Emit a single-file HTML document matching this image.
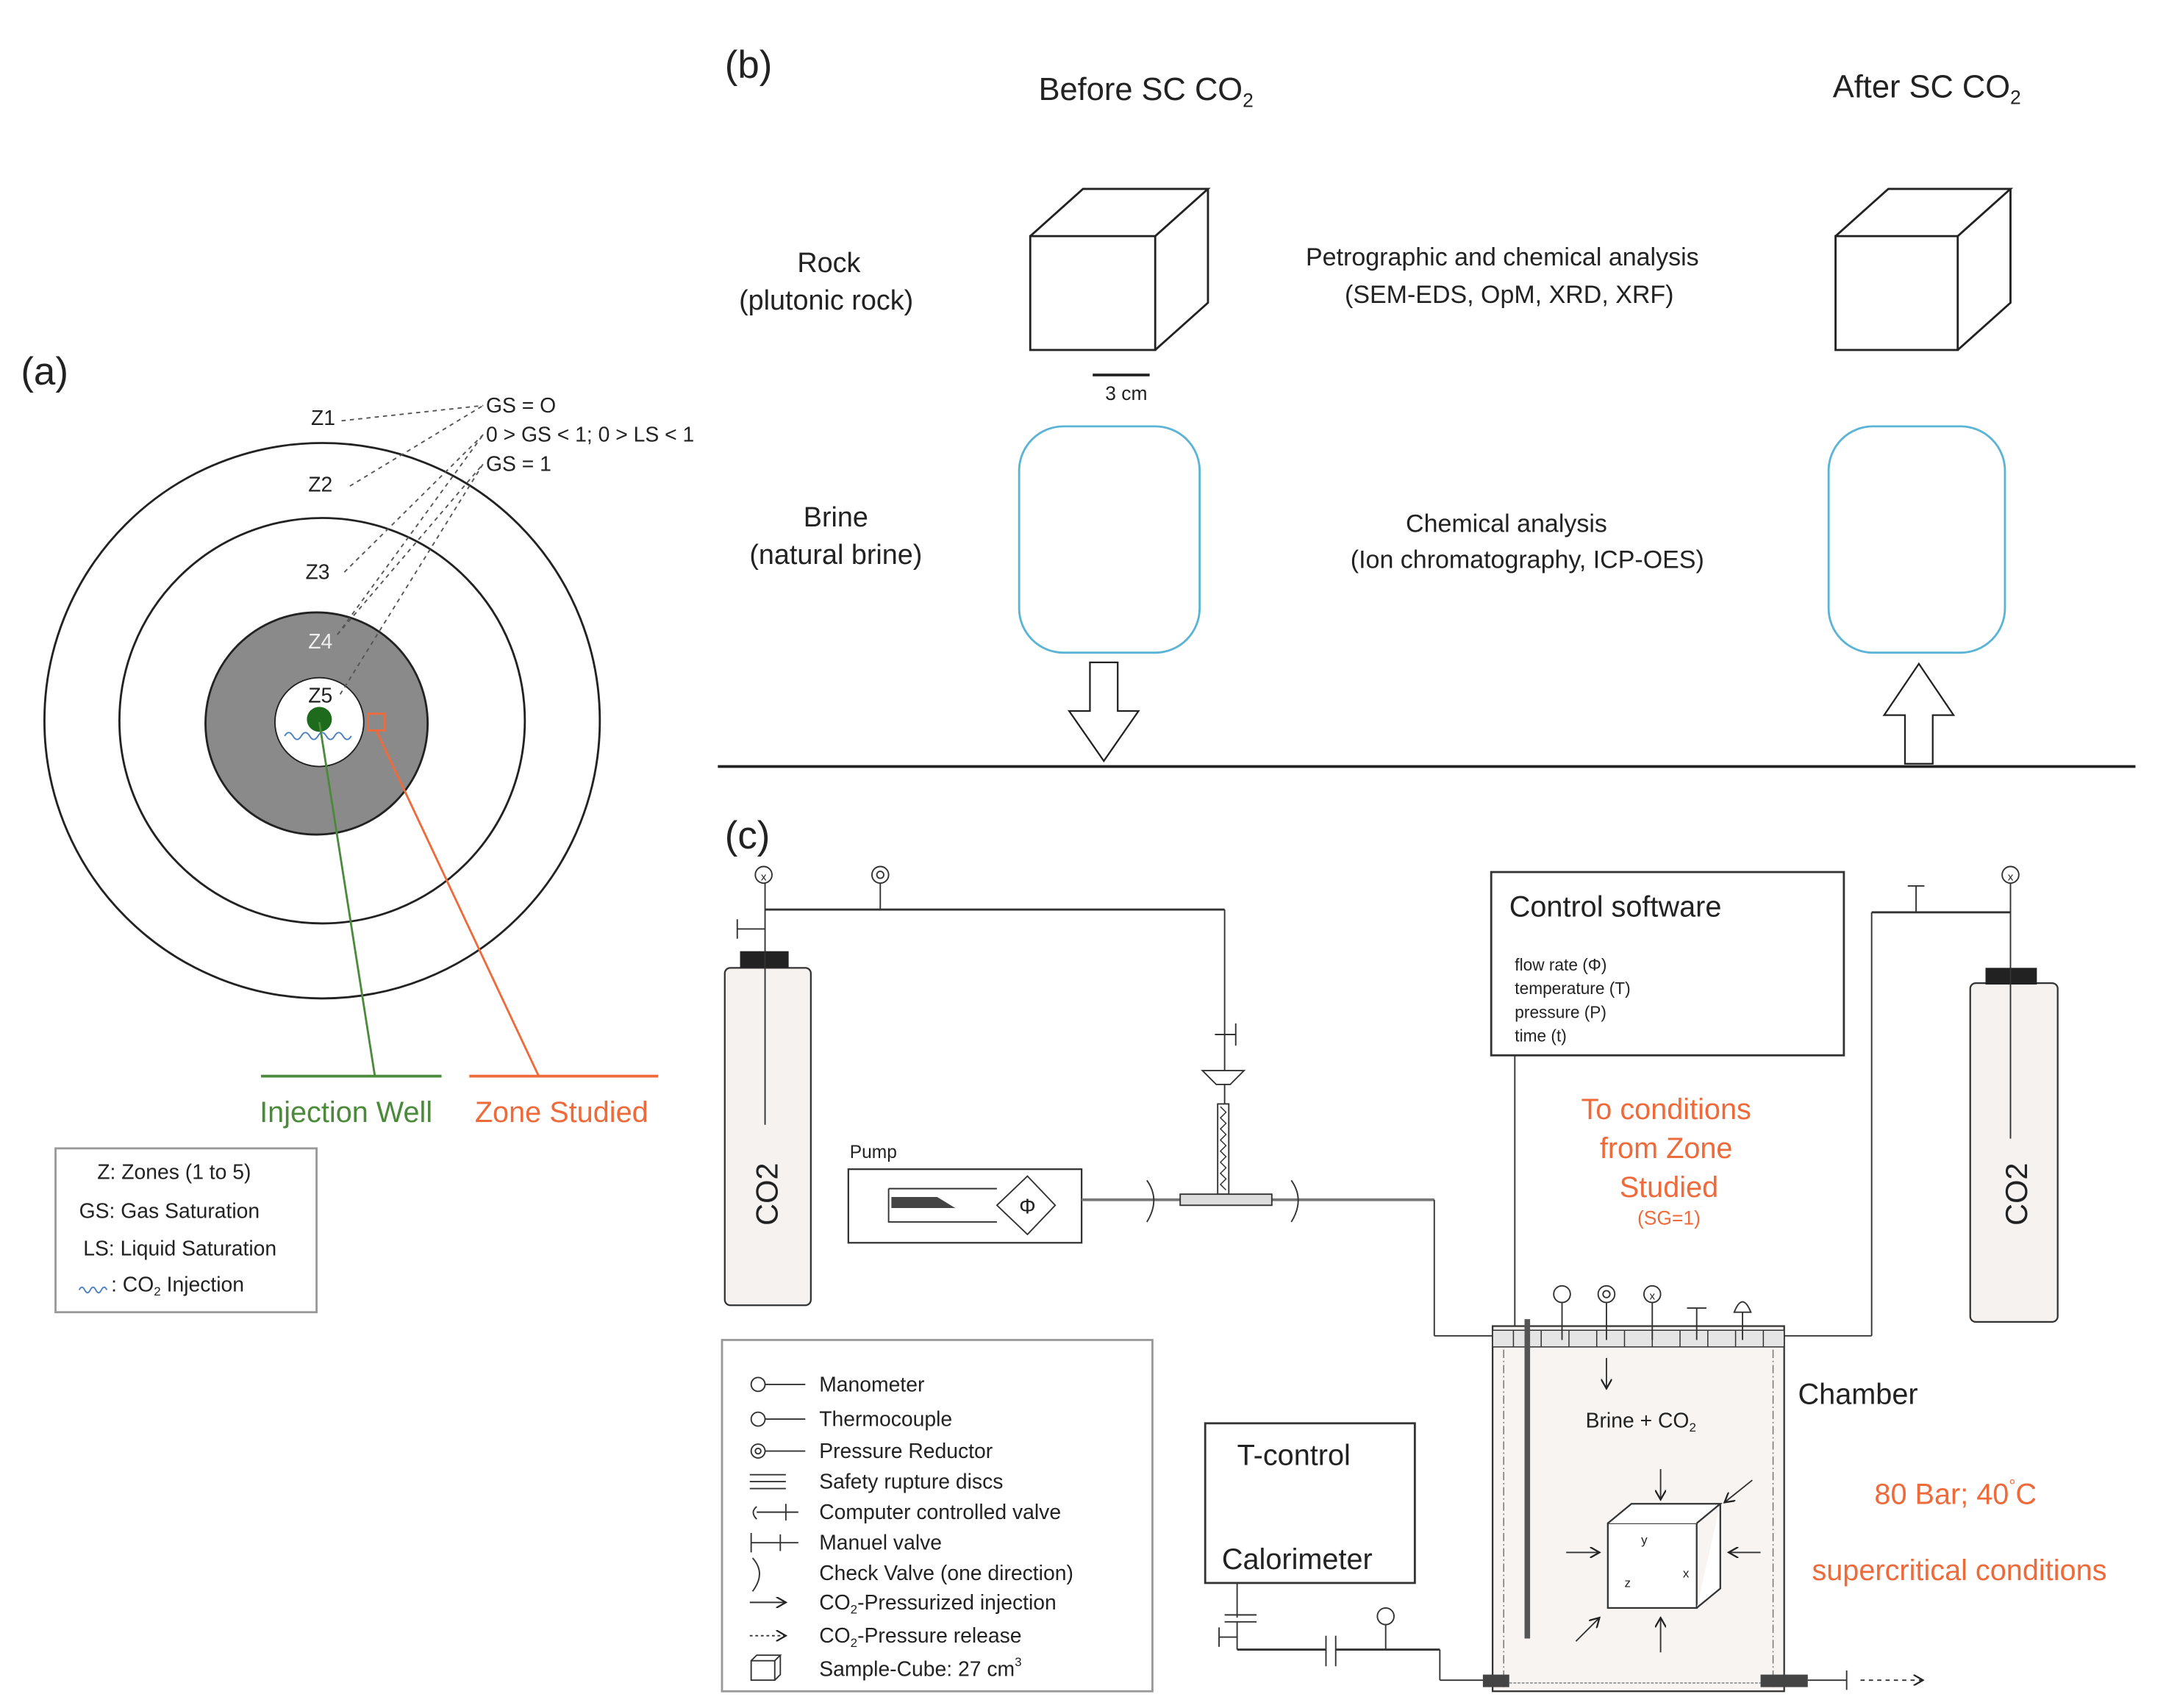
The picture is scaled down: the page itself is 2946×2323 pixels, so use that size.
<!DOCTYPE html>
<html><head><meta charset="utf-8"><style>
html,body{margin:0;padding:0;background:#fff;}
svg{display:block;}
text{font-family:"Liberation Sans",sans-serif;fill:#222;}
.o{fill:#ef6a3a;}
</style></head><body>
<svg width="2946" height="2323" viewBox="0 0 1560 1230" xmlns="http://www.w3.org/2000/svg">
<defs>
<marker id="ah" markerWidth="8" markerHeight="8" refX="7" refY="4" orient="auto"><path d="M0,0 L7,4 L0,8" fill="none" stroke="#222" stroke-width="1.2"/></marker>
</defs>
<!-- (a) -->
<text x="15" y="277" font-size="28">(a)</text>
<circle cx="232" cy="519" r="200" fill="none" stroke="#222" stroke-width="1.5"/>
<circle cx="232" cy="519" r="146" fill="none" stroke="#222" stroke-width="1.5"/>
<circle cx="228" cy="521" r="80" fill="#8a8a8a" stroke="#222" stroke-width="1.5"/>
<circle cx="230" cy="520" r="32" fill="#fff" stroke="#222" stroke-width="1"/>
<circle cx="230" cy="518" r="9" fill="#1e6b1e"/>
<path d="M205,530 q3,-5 6,0 t6,0 t6,0 t6,0 t6,0 t6,0 t6,0 t6,0" fill="none" stroke="#4a7fc4" stroke-width="1"/>
<rect x="265" y="514" width="12" height="12" fill="none" stroke="#ef6a3a" stroke-width="1.5"/>
<line x1="230" y1="520" x2="270" y2="775" stroke="#4a8a3a" stroke-width="1.5"/>
<line x1="188" y1="775" x2="318" y2="775" stroke="#4a8a3a" stroke-width="2"/>
<line x1="271" y1="526" x2="388" y2="775" stroke="#ef6a3a" stroke-width="1.5"/>
<line x1="338" y1="775" x2="474" y2="775" stroke="#ef6a3a" stroke-width="2"/>
<text x="187" y="808" font-size="21" style="fill:#4a8a3a">Injection Well</text>
<text x="342" y="808" font-size="21" class="o">Zone Studied</text>
<text x="224" y="306" font-size="15">Z1</text>
<text x="222" y="354" font-size="15">Z2</text>
<text x="220" y="417" font-size="15">Z3</text>
<text x="222" y="467" font-size="15" style="fill:#eee">Z4</text>
<text x="222" y="506" font-size="15">Z5</text>
<g stroke="#555" stroke-dasharray="3,3" stroke-width="1" fill="none">
<line x1="246" y1="303" x2="348" y2="292"/>
<line x1="252" y1="350" x2="348" y2="292"/>
<line x1="248" y1="412" x2="348" y2="313"/>
<line x1="243" y1="457" x2="348" y2="313"/>
<line x1="243" y1="457" x2="348" y2="334"/>
<line x1="245" y1="500" x2="348" y2="334"/>
</g>
<text x="350" y="297" font-size="15">GS = O</text>
<text x="350" y="318" font-size="15">0 &gt; GS &lt; 1; 0 &gt; LS &lt; 1</text>
<text x="350" y="339" font-size="15">GS = 1</text>
<rect x="40" y="827" width="188" height="118" fill="#fff" stroke="#999" stroke-width="1.5"/>
<text x="70" y="849" font-size="15">Z:  Zones (1 to 5)</text>
<text x="57" y="877" font-size="15">GS: Gas Saturation</text>
<text x="60" y="904" font-size="15">LS: Liquid Saturation</text>
<path d="M57,929 q2,-4 4,0 t4,0 t4,0 t4,0 t4,0" fill="none" stroke="#4a7fc4" stroke-width="1"/>
<text x="80" y="930" font-size="15">: CO<tspan font-size="9" dy="3">2</tspan><tspan dy="-3"> Injection</tspan></text>

<!-- (b) -->
<text x="522" y="56" font-size="28">(b)</text>
<text x="748" y="72" font-size="23">Before SC CO<tspan font-size="14" dy="5">2</tspan></text>
<text x="1320" y="70" font-size="23">After  SC CO<tspan font-size="14" dy="5">2</tspan></text>
<text x="597" y="196" font-size="20" text-anchor="middle">Rock</text>
<text x="595" y="223" font-size="20" text-anchor="middle">(plutonic rock)</text>
<text x="602" y="379" font-size="20" text-anchor="middle">Brine</text>
<text x="602" y="406" font-size="20" text-anchor="middle">(natural brine)</text>
<g fill="none" stroke="#222" stroke-width="1.5">
<rect x="742" y="170" width="90" height="82"/>
<path d="M742,170 L780,136 L870,136 L832,170 M870,136 L870,218 L832,252"/>
<rect x="1322" y="170" width="88" height="82"/>
<path d="M1322,170 L1360,136 L1448,136 L1410,170 M1448,136 L1448,218 L1410,252"/>
</g>
<line x1="787" y1="270" x2="828" y2="270" stroke="#222" stroke-width="2"/>
<text x="796" y="288" font-size="14">3 cm</text>
<text x="1082" y="191" font-size="18" text-anchor="middle">Petrographic and chemical analysis</text>
<text x="1087" y="218" font-size="18" text-anchor="middle">(SEM-EDS, OpM, XRD, XRF)</text>
<text x="1085" y="383" font-size="18" text-anchor="middle">Chemical analysis</text>
<text x="1100" y="409" font-size="18" text-anchor="middle">(Ion chromatography, ICP-OES)</text>
<rect x="734" y="307" width="130" height="163" rx="32" fill="none" stroke="#5ab4d6" stroke-width="1.5"/>
<rect x="1317" y="307" width="127" height="163" rx="32" fill="none" stroke="#5ab4d6" stroke-width="1.5"/>
<path d="M785,477 L805,477 L805,512 L820,512 L795,548 L770,512 L785,512 Z" fill="#fff" stroke="#222" stroke-width="1.2"/>
<path d="M1372,550 L1392,550 L1392,515 L1407,515 L1382,478 L1357,515 L1372,515 Z" fill="#fff" stroke="#222" stroke-width="1.2"/>
<line x1="517" y1="552" x2="1538" y2="552" stroke="#222" stroke-width="2"/>

<!-- (c) -->
<text x="522" y="611" font-size="28">(c)</text>
<rect x="522" y="697" width="62" height="243" rx="4" fill="#f6f2f0" stroke="#333" stroke-width="1.2"/>
<rect x="533" y="685" width="35" height="12" fill="#222"/>
<line x1="551" y1="636" x2="551" y2="810" stroke="#333" stroke-width="1"/>
<text x="560" y="860" font-size="22" transform="rotate(-90 560 860)" text-anchor="middle">CO2</text>
<circle cx="550" cy="630" r="6" fill="#fff" stroke="#333"/>
<text x="550" y="634" font-size="8" text-anchor="middle">x</text>
<line x1="531" y1="662" x2="531" y2="676" stroke="#333"/><line x1="531" y1="669" x2="551" y2="669" stroke="#333"/>
<line x1="551" y1="655" x2="882" y2="655" stroke="#333" stroke-width="1.5"/>
<circle cx="634" cy="630" r="6" fill="#fff" stroke="#333"/><circle cx="634" cy="630" r="2.5" fill="none" stroke="#333"/>
<line x1="634" y1="636" x2="634" y2="655" stroke="#333"/>
<line x1="882" y1="655" x2="882" y2="862" stroke="#333"/>
<line x1="875" y1="745" x2="890" y2="745" stroke="#333"/><line x1="890" y1="737" x2="890" y2="753" stroke="#333"/>
<path d="M866,771 L896,771 L886,781 L876,781 Z" fill="#fff" stroke="#333"/>
<rect x="877" y="795" width="8" height="65" fill="#fff" stroke="#333"/>
<path d="M879,797 l4,4 l-4,4 l4,4 l-4,4 l4,4 l-4,4 l4,4 l-4,4 l4,4 l-4,4 l4,4 l-4,4 l4,4 l-4,4 l4,4" fill="none" stroke="#333" stroke-width="0.8"/>
<text x="612" y="834" font-size="13">Pump</text>
<rect x="611" y="842" width="168" height="53" fill="#fff" stroke="#333" stroke-width="1.2"/>
<path d="M640,856 L718,856 M640,856 L640,880 L718,880" stroke="#333" fill="none"/>
<path d="M642,862 L675,862 L688,870 L642,870 Z" fill="#444"/>
<path d="M740,847 L760,868 L740,889 L718,868 Z" fill="#fff" stroke="#333"/>
<text x="740" y="874" font-size="15" text-anchor="middle">Φ</text>
<line x1="779" y1="864" x2="1033" y2="864" stroke="#777" stroke-width="2"/>
<path d="M826,850 Q836,864 826,880" fill="none" stroke="#333"/>
<path d="M930,850 Q940,864 930,880" fill="none" stroke="#333"/>
<rect x="850" y="860" width="66" height="8" fill="#ddd" stroke="#333"/>
<line x1="1033" y1="864" x2="1033" y2="962" stroke="#333"/>
<line x1="1033" y1="962" x2="1077" y2="962" stroke="#333"/>
<rect x="1074" y="628" width="254" height="132" fill="#fff" stroke="#333" stroke-width="1.5"/>
<text x="1087" y="660" font-size="21">Control software</text>
<text x="1091" y="699" font-size="12">flow rate (Φ)</text>
<text x="1091" y="716" font-size="12">temperature (T)</text>
<text x="1091" y="733" font-size="12">pressure (P)</text>
<text x="1091" y="750" font-size="12">time (t)</text>
<line x1="1091" y1="760" x2="1091" y2="958" stroke="#333"/>
<text x="1200" y="806" font-size="21" text-anchor="middle" class="o">To conditions</text>
<text x="1200" y="834" font-size="21" text-anchor="middle" class="o">from Zone</text>
<text x="1202" y="862" font-size="21" text-anchor="middle" class="o">Studied</text>
<text x="1202" y="882" font-size="14" text-anchor="middle" class="o">(SG=1)</text>
<rect x="1419" y="708" width="63" height="244" rx="4" fill="#f6f2f0" stroke="#333" stroke-width="1.2"/>
<rect x="1430" y="697" width="37" height="12" fill="#222"/>
<line x1="1448" y1="636" x2="1448" y2="820" stroke="#333"/>
<text x="1460" y="860" font-size="22" transform="rotate(-90 1460 860)" text-anchor="middle">CO2</text>
<circle cx="1448" cy="630" r="6" fill="#fff" stroke="#333"/>
<text x="1448" y="634" font-size="8" text-anchor="middle">x</text>
<line x1="1348" y1="657" x2="1448" y2="657" stroke="#333" stroke-width="1.5"/>
<line x1="1380" y1="638" x2="1380" y2="657" stroke="#333"/><line x1="1374" y1="638" x2="1386" y2="638" stroke="#333"/>
<line x1="1348" y1="657" x2="1348" y2="962" stroke="#333"/>
<line x1="1285" y1="962" x2="1348" y2="962" stroke="#333"/>
<rect x="1075" y="955" width="210" height="263" fill="#f7f4f2" stroke="#333" stroke-width="1.2"/>
<rect x="1075" y="958" width="210" height="12" fill="#e5e5e5" stroke="#333" stroke-width="0.8"/>
<g stroke="#333" stroke-width="0.8">
<line x1="1090" y1="958" x2="1090" y2="970"/><line x1="1110" y1="958" x2="1110" y2="970"/><line x1="1130" y1="958" x2="1130" y2="970"/><line x1="1150" y1="958" x2="1150" y2="970"/><line x1="1170" y1="958" x2="1170" y2="970"/><line x1="1190" y1="958" x2="1190" y2="970"/><line x1="1210" y1="958" x2="1210" y2="970"/><line x1="1230" y1="958" x2="1230" y2="970"/><line x1="1250" y1="958" x2="1250" y2="970"/><line x1="1270" y1="958" x2="1270" y2="970"/>
</g>
<line x1="1083" y1="972" x2="1083" y2="1215" stroke="#777" stroke-dasharray="6,2,1,2" stroke-width="0.8"/>
<line x1="1277" y1="972" x2="1277" y2="1215" stroke="#777" stroke-dasharray="6,2,1,2" stroke-width="0.8"/>
<line x1="1100" y1="950" x2="1100" y2="1180" stroke="#555" stroke-width="4"/>
<g stroke="#333" fill="#fff">
<line x1="1125" y1="938" x2="1125" y2="965"/><circle cx="1125" cy="932" r="6"/>
<line x1="1157" y1="938" x2="1157" y2="965"/><circle cx="1157" cy="932" r="6"/><circle cx="1157" cy="932" r="2.5"/>
<line x1="1190" y1="938" x2="1190" y2="965"/><circle cx="1190" cy="932" r="6"/>
<line x1="1222" y1="942" x2="1222" y2="965"/><line x1="1215" y1="942" x2="1229" y2="942"/>
<line x1="1255" y1="945" x2="1255" y2="965"/><path d="M1249,945 Q1255,930 1261,945 Z"/>
</g>
<text x="1190" y="936" font-size="8" text-anchor="middle">x</text>
<line x1="1157" y1="978" x2="1157" y2="1000" stroke="#333" marker-end="url(#ah)"/>
<text x="1142" y="1028" font-size="15">Brine + CO<tspan font-size="9" dy="3">2</tspan></text>
<text x="1295" y="1011" font-size="21">Chamber</text>
<rect x="1158" y="1097" width="64" height="61" fill="#fff" stroke="#333" stroke-width="1.2"/>
<path d="M1158,1097 L1175,1083 L1239,1083 L1222,1097 M1239,1083 L1239,1144 L1222,1158" fill="#fff" stroke="#333" stroke-width="1.2"/>
<text x="1182" y="1112" font-size="9">y</text><text x="1212" y="1136" font-size="9">x</text><text x="1170" y="1143" font-size="9">z</text>
<g stroke="#333" stroke-width="1" fill="none">
<line x1="1196" y1="1058" x2="1196" y2="1080" marker-end="url(#ah)"/>
<line x1="1196" y1="1190" x2="1196" y2="1165" marker-end="url(#ah)"/>
<line x1="1128" y1="1118" x2="1152" y2="1118" marker-end="url(#ah)"/>
<line x1="1268" y1="1118" x2="1245" y2="1118" marker-end="url(#ah)"/>
<line x1="1262" y1="1066" x2="1242" y2="1082" marker-end="url(#ah)"/>
<line x1="1135" y1="1182" x2="1152" y2="1165" marker-end="url(#ah)"/>
</g>
<text x="1350" y="1083" font-size="21" class="o">80 Bar; 40<tspan font-size="12" dy="-9">°</tspan><tspan dy="9">C</tspan></text>
<text x="1305" y="1138" font-size="21" class="o">supercritical conditions</text>
<rect x="868" y="1025" width="151" height="115" fill="#fff" stroke="#333" stroke-width="1.5"/>
<text x="891" y="1055" font-size="21">T-control</text>
<text x="880" y="1130" font-size="21">Calorimeter</text>
<g stroke="#333" fill="none">
<line x1="891" y1="1140" x2="891" y2="1165"/>
<line x1="882" y1="1163" x2="905" y2="1163"/><line x1="882" y1="1168" x2="905" y2="1168"/>
<line x1="878" y1="1172" x2="878" y2="1186"/><line x1="878" y1="1179" x2="891" y2="1179"/>
<line x1="891" y1="1168" x2="891" y2="1188"/>
<line x1="891" y1="1188" x2="955" y2="1188" stroke-width="1.5"/>
<line x1="955" y1="1178" x2="955" y2="1200"/><line x1="962" y1="1178" x2="962" y2="1200"/>
<line x1="962" y1="1188" x2="1037" y2="1188" stroke-width="1.5"/>
<line x1="998" y1="1170" x2="998" y2="1188"/><circle cx="998" cy="1164" r="6" fill="#fff"/>
<line x1="1037" y1="1188" x2="1037" y2="1210"/><line x1="1037" y1="1210" x2="1070" y2="1210"/>
</g>
<rect x="1068" y="1206" width="19" height="9" fill="#444"/>
<rect x="1268" y="1206" width="34" height="9" fill="#444"/>
<line x1="1087" y1="1212" x2="1268" y2="1212" stroke="#999" stroke-dasharray="2,1"/>
<line x1="1302" y1="1210" x2="1330" y2="1210" stroke="#333"/><line x1="1330" y1="1203" x2="1330" y2="1217" stroke="#333"/>
<line x1="1340" y1="1210" x2="1385" y2="1210" stroke="#333" stroke-dasharray="3,3" marker-end="url(#ah)"/>
<rect x="520" y="965" width="310" height="253" fill="#fff" stroke="#999" stroke-width="1.5"/>
<g stroke="#333" fill="#fff">
<circle cx="546" cy="997" r="5"/><line x1="551" y1="997" x2="580" y2="997"/>
<circle cx="546" cy="1022" r="5"/><line x1="551" y1="1022" x2="580" y2="1022"/>
<circle cx="546" cy="1045" r="5"/><circle cx="546" cy="1045" r="2"/><line x1="551" y1="1045" x2="580" y2="1045"/>
<line x1="540" y1="1062" x2="566" y2="1062"/><line x1="540" y1="1067" x2="566" y2="1067"/><line x1="540" y1="1072" x2="566" y2="1072"/>
<path d="M545,1085 Q540,1089 545,1094" fill="none"/><line x1="545" y1="1089" x2="575" y2="1089"/><line x1="566" y1="1083" x2="566" y2="1095"/>
<line x1="541" y1="1104" x2="541" y2="1118"/><line x1="541" y1="1111" x2="575" y2="1111"/><line x1="562" y1="1105" x2="562" y2="1117"/>
<path d="M542,1122 Q552,1133 542,1146" fill="none"/>
<line x1="540" y1="1154" x2="566" y2="1154" marker-end="url(#ah)"/>
<line x1="540" y1="1178" x2="566" y2="1178" stroke-dasharray="2,2" marker-end="url(#ah)"/>
<rect x="541" y="1196" width="17" height="14"/><path d="M541,1196 l4,-4 h17 l-4,4 M562,1192 v14 l-4,4" fill="none"/>
</g>
<g font-size="15">
<text x="590" y="1002">Manometer</text>
<text x="590" y="1027">Thermocouple</text>
<text x="590" y="1050">Pressure Reductor</text>
<text x="590" y="1072">Safety rupture discs</text>
<text x="590" y="1094">Computer controlled valve</text>
<text x="590" y="1116">Manuel valve</text>
<text x="590" y="1138">Check Valve (one direction)</text>
<text x="590" y="1159">CO<tspan font-size="9" dy="3">2</tspan><tspan dy="-3">-Pressurized injection</tspan></text>
<text x="590" y="1183">CO<tspan font-size="9" dy="3">2</tspan><tspan dy="-3">-Pressure release</tspan></text>
<text x="590" y="1207">Sample-Cube: 27 cm<tspan font-size="9" dy="-7">3</tspan></text>
</g>
</svg>
</body></html>
